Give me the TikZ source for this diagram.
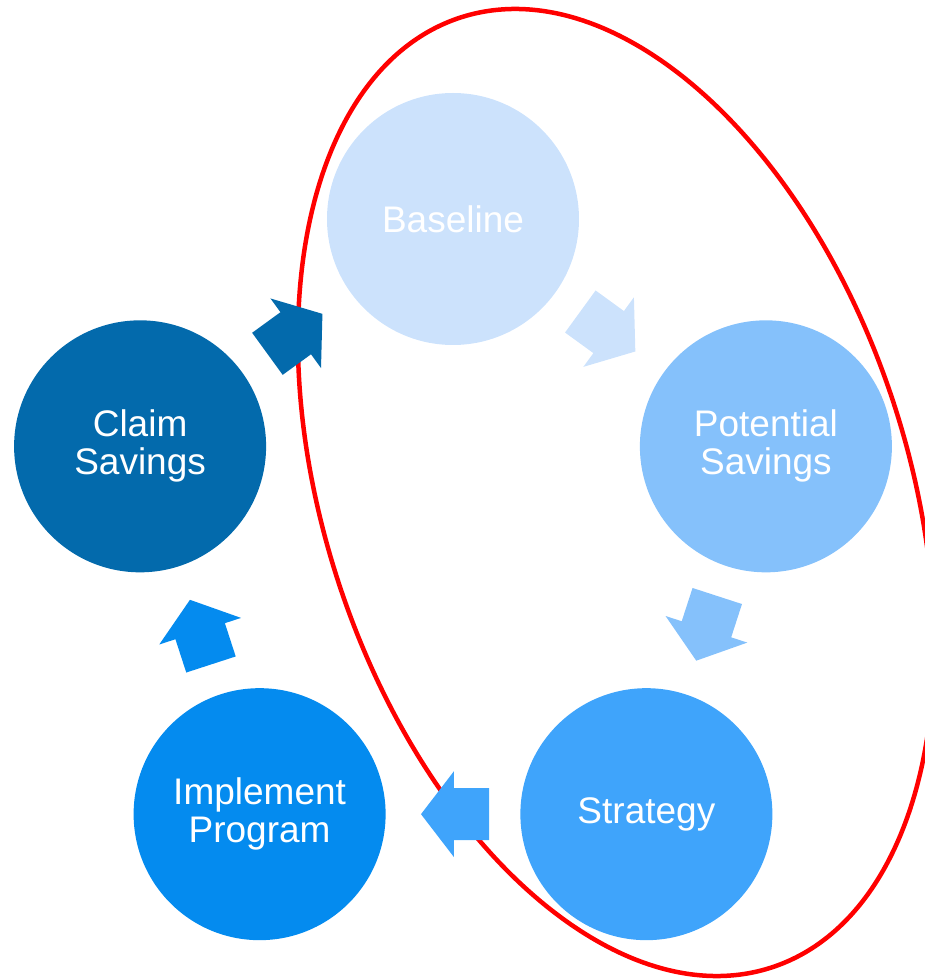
\documentclass[tikz,border=0pt]{standalone}
\usepackage{fontspec}
\setmainfont{Liberation Sans}
\usetikzlibrary{calc}
\definecolor{cBase}{HTML}{CCE2FC}
\definecolor{cPot}{HTML}{85C1FB}
\definecolor{cStr}{HTML}{3FA4FB}
\definecolor{cImp}{HTML}{048BEF}
\definecolor{cClm}{HTML}{036AAC}
\definecolor{cRing}{HTML}{FF0000}
\newcommand\cyclearrow[4]{%
  \fill[#4, shift={($(#1)!0.5!(#2)$)}, rotate=#3]
    (-36,-26) -- (-1,-26) -- (-1,-43) -- (32,0) -- (-1,43) -- (-1,26) -- (-36,26) -- cycle;}
\begin{document}
\begin{tikzpicture}[x=1pt,y=1pt,
  stage/.style={circle, minimum size=252pt, inner sep=0pt, text=white,
    align=center, font=\fontsize{37}{38}\selectfont},
  ring/.style={draw=cRing, line width=4.5pt}]
\useasboundingbox (-453,-432) rectangle (471,548);
\draw[ring] (163,55.5) ellipse [x radius=291.7, y radius=499.8, rotate=18.2];
\node[stage, fill=cBase] (base) at (90:329) {Baseline};
\node[stage, fill=cPot] (pot) at (18:329) {Potential\\Savings};
\node[stage, fill=cStr] (str) at (-54:329) {Strategy};
\node[stage, fill=cImp] (imp) at (-126:329) {Implement\\Program};
\node[stage, fill=cClm] (clm) at (162:329) {Claim\\Savings};
\cyclearrow{base}{pot}{-36}{cBase}
\cyclearrow{pot}{str}{-108}{cPot}
\cyclearrow{str}{imp}{180}{cStr}
\cyclearrow{imp}{clm}{108}{cImp}
\cyclearrow{clm}{base}{36}{cClm}
\end{tikzpicture}
\end{document}
